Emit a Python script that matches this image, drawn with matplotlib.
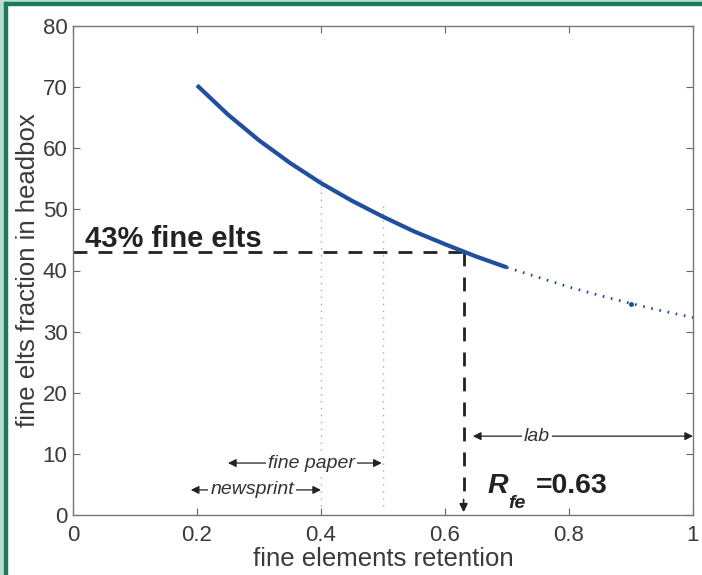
import matplotlib
matplotlib.use('Agg')
import matplotlib.pyplot as plt
from matplotlib.patches import Rectangle

plt.rcParams['font.family'] = ['Liberation Sans', 'DejaVu Sans']

# fine elements retention vs fine fraction in headbox
x_solid = [0.2, 0.25, 0.3, 0.35, 0.4, 0.45, 0.5, 0.55, 0.6, 0.65, 0.7]
y_solid = [70.3, 65.5, 61.3, 57.6, 54.3, 51.4, 48.8, 46.4, 44.3, 42.3, 40.5]
x_dotted = [0.7, 0.75, 0.8, 0.85, 0.9, 0.95, 1.0]
y_dotted = [40.5, 38.9, 37.3, 35.9, 34.6, 33.4, 32.3]

r_fe = 0.63
fine_frac = 43
# grade ranges: (left, right, label, label x, y)
ranges = [(0.19, 0.40, 'newsprint', 0.289, 4.1),
          (0.25, 0.498, 'fine paper', 0.384, 8.5),
          (0.645, 1.0, 'lab', 0.748, 12.9)]
vlines_x = [0.4, 0.5]
vlines_top = [56, 50.7]

xticks = [0, 0.2, 0.4, 0.6, 0.8, 1]
xticklabels = ['0', '0.2', '0.4', '0.6', '0.8', '1']
yticks = [0, 10, 20, 30, 40, 50, 60, 70, 80]

fig = plt.figure(figsize=(7.02, 5.75), dpi=100)
fig.patch.set_facecolor('white')
W, H = 702, 575
# green frame on left and top
fig.patches.append(Rectangle((0, 0), 4 / W, 1, transform=fig.transFigure, color='#b8ddd2', zorder=0))
fig.patches.append(Rectangle((4 / W, 0), 2.5 / W, 1 - 2 / H, transform=fig.transFigure, color='#1e7a5c', zorder=1))
fig.patches.append(Rectangle((0, 1 - 2 / H), 1, 2 / H, transform=fig.transFigure, color='#b8ddd2', zorder=0))
fig.patches.append(Rectangle((4 / W, 1 - 4.5 / H), 1, 2.5 / H, transform=fig.transFigure, color='#1e7a5c', zorder=1))

ax = fig.add_axes([73 / W, 1 - 515 / H, 620 / W, 489 / H])
ax.set_xlim(0, 1)
ax.set_ylim(0, 80)

ax.plot(x_solid, y_solid, color='#1f4f9e', lw=3, solid_capstyle='butt', zorder=3)
ax.plot(x_dotted, y_dotted, color='#1f4f9e', lw=2, ls=(0, (0.6, 2.4)), zorder=3)
ax.plot([x_dotted[4]], [y_dotted[4]], 'o', color='#1f4f9e', ms=2.5, zorder=3)

for xv, top in zip(vlines_x, vlines_top):
    ax.plot([xv, xv], [1.5, top], color='#aaaaaa', lw=1, ls=(0, (1, 4)), zorder=2)

ax.plot([0, r_fe], [fine_frac, fine_frac], color='#222222', lw=2, ls=(0, (5, 4)), zorder=2)
ax.plot([r_fe, r_fe], [fine_frac, 2.5], color='#222222', lw=2, ls=(0, (5, 4)), zorder=2)
ax.annotate('', xy=(r_fe, 0), xytext=(r_fe, 3),
            arrowprops=dict(arrowstyle='-|>', color='#222222', lw=1.2, mutation_scale=12))

for x0, x1, lab, xt, yv in ranges:
    ax.annotate('', xy=(x0, yv), xytext=(x1, yv),
                arrowprops=dict(arrowstyle='<|-|>', color='#222222', lw=0.9,
                                mutation_scale=12, shrinkA=0, shrinkB=0), zorder=3)
    ax.text(xt, yv, lab, style='italic', fontsize=14, color='#333333',
            ha='center', va='center', zorder=4,
            bbox=dict(facecolor='white', edgecolor='none', pad=1.5))

ax.text(0.019, 43.9, '43% fine elts', fontsize=21, fontweight='bold', color='#222222',
        ha='left', va='baseline')
ax.text(0.668, 3.65, 'R', fontsize=20.5, fontweight='bold', style='italic',
        color='#222222', ha='left', va='baseline')
ax.text(0.702, 1.1, 'fe', fontsize=14, fontweight='bold', style='italic',
        color='#222222', ha='left', va='baseline')
ax.text(0.747, 3.65, '=0.63', fontsize=20.5, fontweight='bold', color='#222222',
        ha='left', va='baseline')

ax.set_xticks(xticks)
ax.set_xticklabels(xticklabels)
ax.set_yticks(yticks)
ax.tick_params(direction='in', length=5, labelsize=16, colors='#666666',
               labelcolor='#3a3a3a', top=True, right=True)
ax.tick_params(axis='x', pad=7)
ax.tick_params(axis='y', pad=4)
for s in ax.spines.values():
    s.set_color('#777777')
    s.set_linewidth(1)

ax.set_xlabel('fine elements retention', fontsize=18.5, color='#3a3a3a', labelpad=1)
ax.set_ylabel('fine elts fraction in headbox', fontsize=18.5, color='#3a3a3a', labelpad=2)

fig.savefig('out.png', dpi=100, facecolor=fig.get_facecolor())
